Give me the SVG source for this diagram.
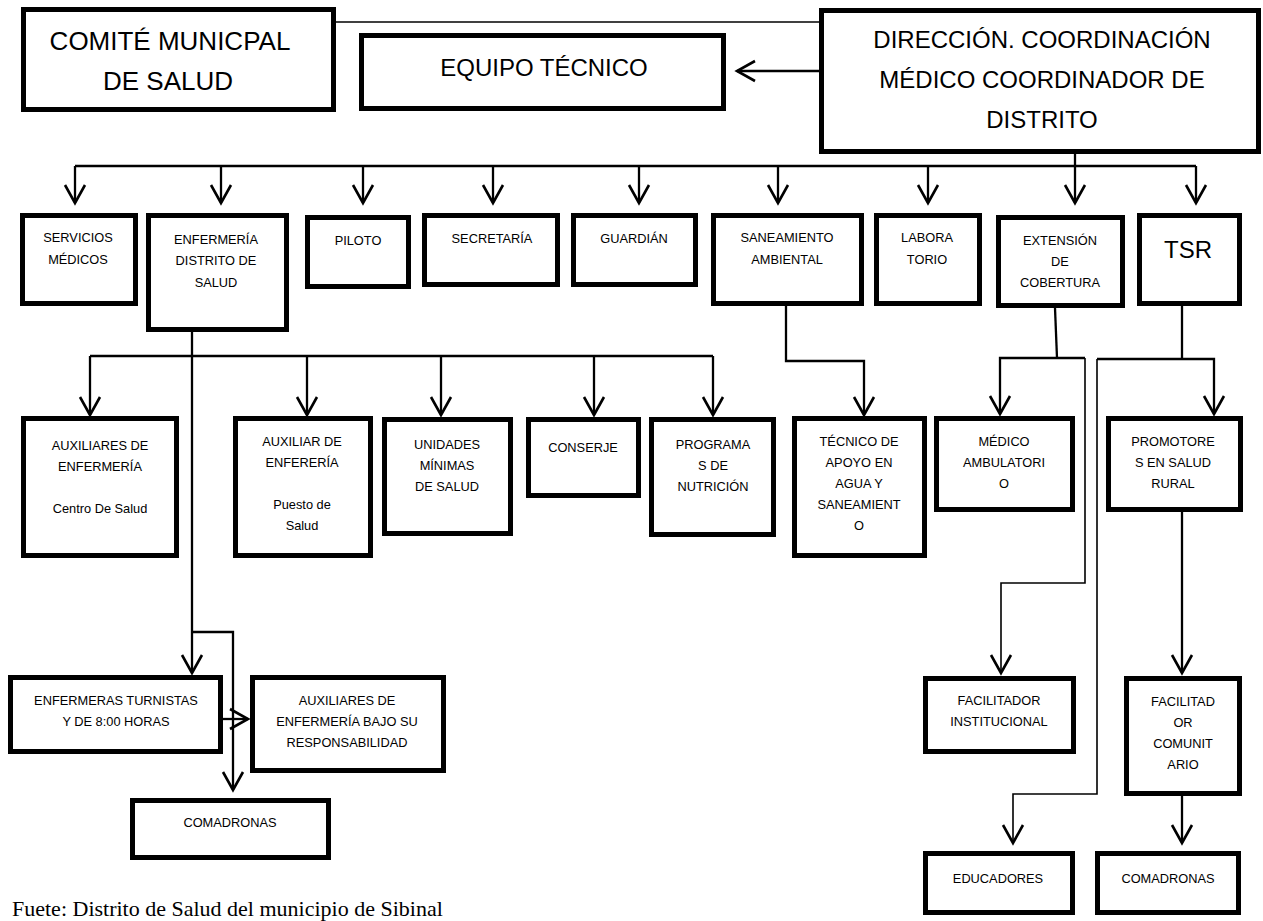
<svg xmlns="http://www.w3.org/2000/svg" width="1263" height="921" viewBox="0 0 1263 921">
<style>
  .box { fill: #fff; stroke: #000; stroke-width: 5; }
  .t { font-family: "Liberation Sans", Arial, sans-serif; font-size: 12.8px; fill: #000; text-anchor: middle; }
  .big { font-size: 24px; }
  .huge { font-size: 26px; }
  .c { fill: none; stroke: #000; stroke-width: 2.3; }
  .thin { fill: none; stroke: #000; stroke-width: 1.6; }
  .a { marker-end: url(#arr); }
  .foot { font-family: "Liberation Serif", "Times New Roman", serif; font-size: 22px; fill: #000; }
</style>
<defs>
  <marker id="arr" markerUnits="userSpaceOnUse" markerWidth="26" markerHeight="26" viewBox="-22 -13 26 26" refX="0" refY="0" orient="auto" overflow="visible">
    <path d="M-18,-10 L0,0 L-18,10" fill="none" stroke="#000" stroke-width="2.6"/>
  </marker>
</defs>
<rect width="1263" height="921" fill="#fff"/>

<g id="connectors">
  <line class="thin" x1="336" y1="22" x2="819" y2="22"/>
  <line class="c a" x1="819" y1="71" x2="737" y2="71"/>
  <!-- main row -->
  <line class="c" x1="75" y1="166" x2="1196" y2="166"/>
  <line class="c" x1="1075" y1="154" x2="1075" y2="166"/>
  <line class="c a" x1="75" y1="166" x2="75" y2="203"/>
  <line class="c a" x1="221" y1="166" x2="221" y2="203"/>
  <line class="c a" x1="363" y1="166" x2="363" y2="203"/>
  <line class="c a" x1="493" y1="166" x2="493" y2="203"/>
  <line class="c a" x1="639" y1="166" x2="639" y2="203"/>
  <line class="c a" x1="778" y1="166" x2="778" y2="203"/>
  <line class="c a" x1="928" y1="166" x2="928" y2="203"/>
  <line class="c a" x1="1075" y1="166" x2="1075" y2="203"/>
  <line class="c a" x1="1196" y1="166" x2="1196" y2="203"/>
  <!-- enfermeria -->
  <line class="c a" x1="192" y1="332" x2="192" y2="673"/>
  <line class="c" x1="90" y1="356" x2="713" y2="356"/>
  <line class="c a" x1="90" y1="356" x2="90" y2="415"/>
  <line class="c a" x1="307" y1="356" x2="307" y2="415"/>
  <line class="c a" x1="441" y1="356" x2="441" y2="415"/>
  <line class="c a" x1="594" y1="356" x2="594" y2="415"/>
  <line class="c a" x1="713" y1="356" x2="713" y2="415"/>
  <polyline class="c a" points="192,632 233,632 233,790"/>
  <line class="c a" x1="223" y1="719" x2="248" y2="719"/>
  <!-- saneamiento -->
  <polyline class="c a" points="786,306 786,361 864,361 864,415"/>
  <!-- extension -->
  <line class="c" x1="1055" y1="308" x2="1057" y2="358"/>
  <polyline class="c a" points="1085,358 1000,358 1000,414"/>
  <polyline class="thin a" points="1085,358 1085,583 1001,583 1001,673"/>
  <!-- TSR -->
  <line class="c" x1="1182" y1="306" x2="1182" y2="359"/>
  <polyline class="c a" points="1097,359 1214,359 1214,414"/>
  <polyline class="thin a" points="1097,359 1097,794 1013,794 1013,843"/>
  <line class="c a" x1="1182" y1="512" x2="1182" y2="673"/>
  <line class="c a" x1="1182" y1="796" x2="1182" y2="843"/>
</g>

<g id="comite"><rect class="box" x="23.5" y="9.5" width="310" height="100"/>
  <text class="t huge" x="170" y="50">COMITÉ MUNICPAL</text><text class="t huge" x="168" y="90">DE SALUD</text></g>
<g id="equipo"><rect class="box" x="361.5" y="35.5" width="362" height="73"/>
  <text class="t big" x="544" y="76">EQUIPO TÉCNICO</text></g>
<g id="direccion"><rect class="box" x="821.5" y="10.5" width="437" height="141"/>
  <text class="t big" x="1042" y="48">DIRECCIÓN. COORDINACIÓN</text><text class="t big" x="1042" y="88">MÉDICO COORDINADOR DE</text><text class="t big" x="1042" y="128">DISTRITO</text></g>

<g id="servicios"><rect class="box" x="22.5" y="215.5" width="113" height="88"/>
  <text class="t" x="78" y="242">SERVICIOS</text><text class="t" x="78" y="264">MÉDICOS</text></g>
<g id="enfermeria"><rect class="box" x="148.5" y="215.5" width="138" height="114"/>
  <text class="t" x="216" y="244">ENFERMERÍA</text><text class="t" x="216" y="265">DISTRITO DE</text><text class="t" x="216" y="287">SALUD</text></g>
<g id="piloto"><rect class="box" x="307.5" y="217.5" width="101" height="69"/>
  <text class="t" x="358" y="245">PILOTO</text></g>
<g id="secretaria"><rect class="box" x="424.5" y="215.5" width="133" height="69"/>
  <text class="t" x="492" y="243">SECRETARÍA</text></g>
<g id="guardian"><rect class="box" x="573.5" y="215.5" width="122" height="69"/>
  <text class="t" x="634" y="243">GUARDIÁN</text></g>
<g id="saneamiento"><rect class="box" x="713.5" y="215.5" width="148" height="88"/>
  <text class="t" x="787" y="242">SANEAMIENTO</text><text class="t" x="787" y="264">AMBIENTAL</text></g>
<g id="laboratorio"><rect class="box" x="876.5" y="215.5" width="103" height="88"/>
  <text class="t" x="927" y="242">LABORA</text><text class="t" x="927" y="264">TORIO</text></g>
<g id="extension"><rect class="box" x="998.5" y="217.5" width="124" height="88"/>
  <text class="t" x="1060" y="245">EXTENSIÓN</text><text class="t" x="1060" y="266">DE</text><text class="t" x="1060" y="287">COBERTURA</text></g>
<g id="tsr"><rect class="box" x="1139.5" y="215.5" width="100" height="88"/>
  <text class="t big" x="1188" y="258">TSR</text></g>

<g id="aux-centro"><rect class="box" x="23.5" y="418.5" width="153" height="137"/>
  <text class="t" x="100" y="450">AUXILIARES DE</text><text class="t" x="100" y="471">ENFERMERÍA</text><text class="t" x="100" y="513">Centro De Salud</text></g>
<g id="aux-puesto"><rect class="box" x="235.5" y="418.5" width="135" height="137"/>
  <text class="t" x="302" y="446">AUXILIAR DE</text><text class="t" x="302" y="467">ENFERERÍA</text><text class="t" x="302" y="509">Puesto de</text><text class="t" x="302" y="530">Salud</text></g>
<g id="unidades"><rect class="box" x="384.5" y="419.5" width="126" height="114"/>
  <text class="t" x="447" y="449">UNIDADES</text><text class="t" x="447" y="470">MÍNIMAS</text><text class="t" x="447" y="491">DE SALUD</text></g>
<g id="conserje"><rect class="box" x="528.5" y="419.5" width="110" height="76"/>
  <text class="t" x="583" y="452">CONSERJE</text></g>
<g id="programas"><rect class="box" x="651.5" y="419.5" width="122" height="115"/>
  <text class="t" x="713" y="449">PROGRAMA</text><text class="t" x="713" y="470">S DE</text><text class="t" x="713" y="491">NUTRICIÓN</text></g>
<g id="tecnico"><rect class="box" x="794.5" y="418.5" width="130" height="137"/>
  <text class="t" x="859" y="446">TÉCNICO DE</text><text class="t" x="859" y="467">APOYO EN</text><text class="t" x="859" y="488">AGUA Y</text><text class="t" x="859" y="509">SANEAMIENT</text><text class="t" x="859" y="530">O</text></g>
<g id="medico"><rect class="box" x="936.5" y="418.5" width="136" height="91"/>
  <text class="t" x="1004" y="446">MÉDICO</text><text class="t" x="1004" y="467">AMBULATORI</text><text class="t" x="1004" y="488">O</text></g>
<g id="promotores"><rect class="box" x="1108.5" y="418.5" width="132" height="91"/>
  <text class="t" x="1173" y="446">PROMOTORE</text><text class="t" x="1173" y="467">S EN SALUD</text><text class="t" x="1173" y="488">RURAL</text></g>

<g id="enfermeras"><rect class="box" x="10.5" y="677.5" width="210" height="74"/>
  <text class="t" x="116" y="705">ENFERMERAS TURNISTAS</text><text class="t" x="116" y="726">Y DE 8:00 HORAS</text></g>
<g id="aux-bajo"><rect class="box" x="252.5" y="677.5" width="191" height="93"/>
  <text class="t" x="347" y="705">AUXILIARES DE</text><text class="t" x="347" y="726">ENFERMERÍA BAJO SU</text><text class="t" x="347" y="747">RESPONSABILIDAD</text></g>
<g id="comadronas-1"><rect class="box" x="132.5" y="800.5" width="196" height="57"/>
  <text class="t" x="230" y="827">COMADRONAS</text></g>
<g id="facilitador-inst"><rect class="box" x="925.5" y="678.5" width="148" height="73"/>
  <text class="t" x="999" y="705">FACILITADOR</text><text class="t" x="999" y="726">INSTITUCIONAL</text></g>
<g id="facilitador-com"><rect class="box" x="1126.5" y="678.5" width="113" height="115"/>
  <text class="t" x="1183" y="706">FACILITAD</text><text class="t" x="1183" y="727">OR</text><text class="t" x="1183" y="748">COMUNIT</text><text class="t" x="1183" y="769">ARIO</text></g>
<g id="educadores"><rect class="box" x="925.5" y="853.5" width="147" height="59"/>
  <text class="t" x="998" y="883">EDUCADORES</text></g>
<g id="comadronas-2"><rect class="box" x="1097.5" y="853.5" width="141" height="59"/>
  <text class="t" x="1168" y="883">COMADRONAS</text></g>

<text class="foot" x="12" y="916">Fuete: Distrito de Salud del municipio de Sibinal</text>
</svg>
